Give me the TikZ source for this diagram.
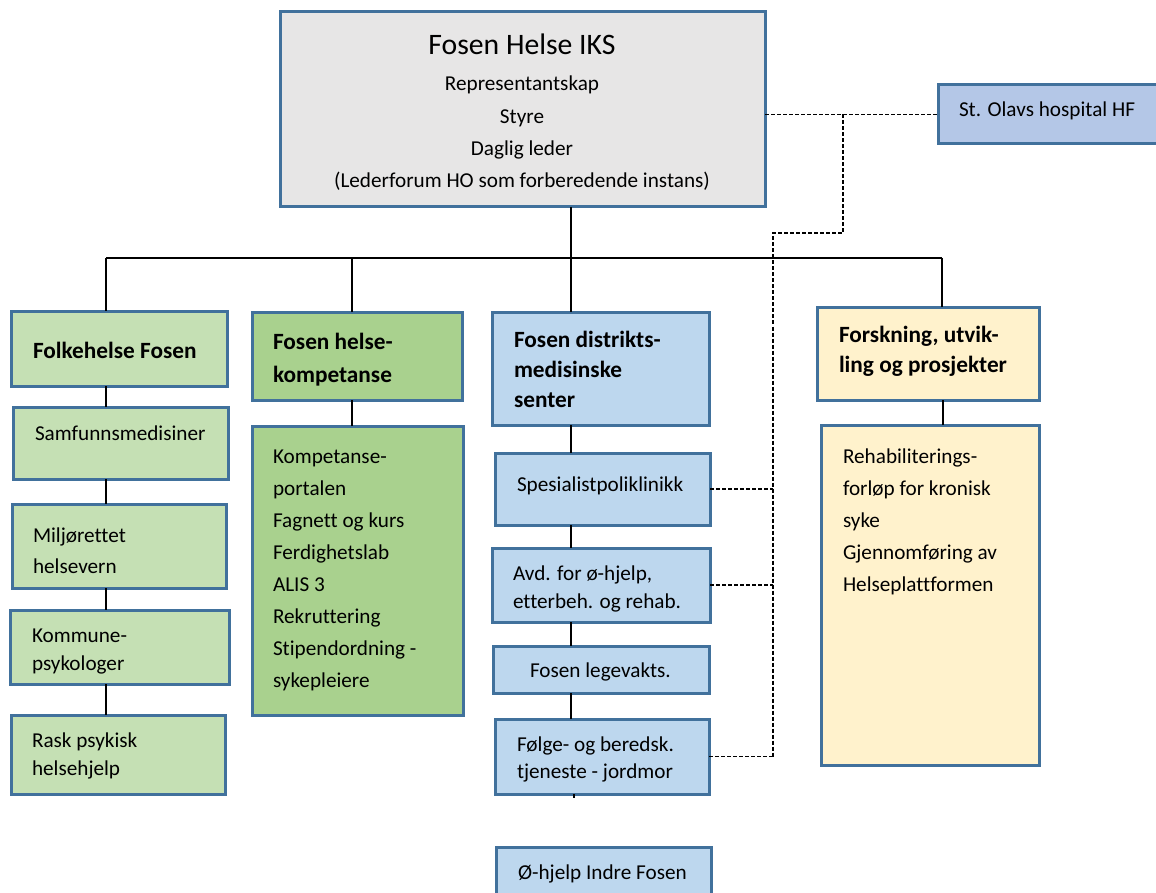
\documentclass[tikz,border=0pt]{standalone}
\usepackage{fontspec}
\setmainfont{Carlito}[Ligatures={NoCommon}]
\definecolor{bord}{HTML}{41719C}
\definecolor{grayfill}{HTML}{E7E6E6}
\definecolor{olavfill}{HTML}{B4C7E7}
\definecolor{lgreen}{HTML}{C5E0B4}
\definecolor{mgreen}{HTML}{A9D18E}
\definecolor{lblue}{HTML}{BDD7EE}
\definecolor{lyellow}{HTML}{FFF2CC}
\newcommand{\bodyf}{\fontsize{21.2}{32}\selectfont}
\newcommand{\boldf}{\fontsize{23.3}{31}\selectfont\bfseries}
\begin{document}
\begin{tikzpicture}[x=1pt,y=-1pt,
  box/.style={draw=bord, line width=3pt, rectangle, inner sep=0pt, outer sep=0pt, anchor=north west},
  txt/.style={anchor=base west, inner sep=0pt, outer sep=0pt, font=\bodyf},
  btxt/.style={anchor=base west, inner sep=0pt, outer sep=0pt, font=\boldf},
  conn/.style={line width=1.7pt, black},
  dline/.style={line width=1.1pt, black, dash pattern=on 4pt off 2pt}]
\clip (0,0) rectangle (1156,893);
\fill[white] (0,0) rectangle (1156,893);

% boxes
\node[box, fill=grayfill, minimum width=485pt, minimum height=195pt] (top) at (280,12) {};
\node[box, fill=olavfill, minimum width=222pt, minimum height=59pt] (olav) at (938,85) {};
\node[box, fill=lgreen, minimum width=216pt, minimum height=75pt] (folk) at (11,311) {};
\node[box, fill=lgreen, minimum width=215pt, minimum height=72pt] (samf) at (13,407) {};
\node[box, fill=lgreen, minimum width=214pt, minimum height=84pt] (milj) at (12,504) {};
\node[box, fill=lgreen, minimum width=219pt, minimum height=74pt] (komm) at (10,610) {};
\node[box, fill=lgreen, minimum width=214pt, minimum height=79pt] (rask) at (11,715) {};
\node[box, fill=mgreen, minimum width=210pt, minimum height=88pt] (komph) at (252,312) {};
\node[box, fill=mgreen, minimum width=211pt, minimum height=289pt] (kompb) at (252,426) {};
\node[box, fill=lblue, minimum width=217pt, minimum height=113pt] (dist) at (492,312) {};
\node[box, fill=lblue, minimum width=215pt, minimum height=72pt] (spes) at (495,453) {};
\node[box, fill=lblue, minimum width=218pt, minimum height=74pt] (avd) at (492,548) {};
\node[box, fill=lblue, minimum width=216pt, minimum height=47pt] (lege) at (493,646) {};
\node[box, fill=lblue, minimum width=214pt, minimum height=75pt] (folge) at (495,719) {};
\node[box, fill=lblue, minimum width=215pt, minimum height=70pt] (ohj) at (496,847) {};
\node[box, fill=lyellow, minimum width=222pt, minimum height=93pt] (fors) at (817,307) {};
\node[box, fill=lyellow, minimum width=218pt, minimum height=340pt] (rehab) at (821,425) {};

% texts
\node[anchor=base, inner sep=0pt, font=\fontsize{29.7}{36}\selectfont] (toptitle) at (522,55) {Fosen Helse IKS};
\node[anchor=base, inner sep=0pt, font=\fontsize{21.2}{32.3}\selectfont] (toplines) at (522,91)
  {\parbox[t]{480pt}{\centering Representantskap\\Styre\\Daglig leder\\(Lederforum HO som forberedende instans)}};
\node[txt] (olavt) at (959,117) {St. Olavs hospital HF};
\node[btxt] (folkt) at (33,358) {Folkehelse Fosen};
\node[txt] (samft) at (35,440) {Samfunnsmedisiner};
\node[txt, font=\fontsize{21.2}{31}\selectfont] (miljt) at (33,542) {\parbox[t]{190pt}{\raggedright Miljørettet\\helsevern}};
\node[txt, font=\fontsize{21.2}{28}\selectfont] (kommt) at (32,642) {\parbox[t]{190pt}{\raggedright Kommune-\\psykologer}};
\node[txt, font=\fontsize{21.2}{28}\selectfont] (raskt) at (32,747) {\parbox[t]{190pt}{\raggedright Rask psykisk\\helsehjelp}};
\node[btxt, font=\fontsize{23.3}{33}\selectfont\bfseries] (kompht) at (273,349) {\parbox[t]{185pt}{\raggedright Fosen helse-\\kompetanse}};
\node[txt] (kompbt) at (273,463) {\parbox[t]{185pt}{\raggedright Kompetanse-\\portalen\\Fagnett og kurs\\Ferdighetslab\\ALIS 3\\Rekruttering\\Stipendordning -\\sykepleiere}};
\node[btxt, font=\fontsize{23.3}{30}\selectfont\bfseries] (distt) at (514,347) {\parbox[t]{190pt}{\raggedright Fosen distrikts-\\medisinske\\senter}};
\node[txt] (spest) at (517,491) {Spesialistpoliklinikk};
\node[txt, font=\fontsize{21.2}{28}\selectfont] (avdt) at (513,580) {\parbox[t]{195pt}{\raggedright Avd. for ø-hjelp,\\etterbeh. og rehab.}};
\node[txt] (leget) at (530,677) {Fosen legevakts.};
\node[txt, font=\fontsize{21.2}{27}\selectfont] (folget) at (517,751) {\parbox[t]{190pt}{\raggedright Følge- og beredsk.\\tjeneste - jordmor}};
\node[txt] (ohjt) at (518,879) {Ø-hjelp Indre Fosen};
\node[btxt, font=\fontsize{23.3}{30}\selectfont\bfseries] (forst) at (839,342) {\parbox[t]{195pt}{\raggedright Forskning, utvik-\\ling og prosjekter}};
\node[txt] (rehabt) at (843,463) {\parbox[t]{190pt}{\raggedright Rehabiliterings-\\forløp for kronisk\\syke\\Gjennomføring av\\Helseplattformen}};

% bus and connectors
\coordinate (bL) at (106,258);
\coordinate (bK) at (352,258);
\coordinate (bM) at (571,258);
\coordinate (bR) at (942,258);
\draw[conn] (bL) -- (bR);
\draw[conn] (bM |- top.south) -- (bM |- dist.north);
\draw[conn] (bL) -- (bL |- folk.north);
\draw[conn] (bK) -- (bK |- komph.north);
\draw[conn] (bR) -- (bR |- fors.north);
\draw[conn] (bL |- folk.south) -- (bL |- samf.north);
\draw[conn] (bL |- samf.south) -- (bL |- milj.north);
\draw[conn] (bL |- milj.south) -- (bL |- komm.north);
\draw[conn] (bL |- komm.south) -- (bL |- rask.north);
\draw[conn] (bK |- komph.south) -- (bK |- kompb.north);
\draw[conn] (bM |- dist.south) -- (bM |- spes.north);
\draw[conn] (bM |- spes.south) -- (bM |- avd.north);
\draw[conn] (bM |- avd.south) -- (bM |- lege.north);
\draw[conn] (bM |- lege.south) -- (bM |- folge.north);
\coordinate (stub) at (574,798);
\draw[conn] (stub |- folge.south) -- (stub);
\coordinate (bR2) at (943,258);
\draw[conn] (bR2 |- fors.south) -- (bR2 |- rehab.north);

% dashed links to St. Olavs
\coordinate (d1) at (843,0);
\coordinate (d2) at (843,233);
\coordinate (d3) at (773,233);
\draw[dline] (olav.west -| top.east) -- (olav.west);
\draw[dline] (d1 |- olav.west) -- (d2) -- (d3) -- (d3 |- folge.east);
\draw[dline] (spes.east) -- (spes.east -| d3);
\draw[dline] (avd.east) -- (avd.east -| d3);
\draw[dline] (folge.east) -- (folge.east -| d3);
\end{tikzpicture}
\end{document}
